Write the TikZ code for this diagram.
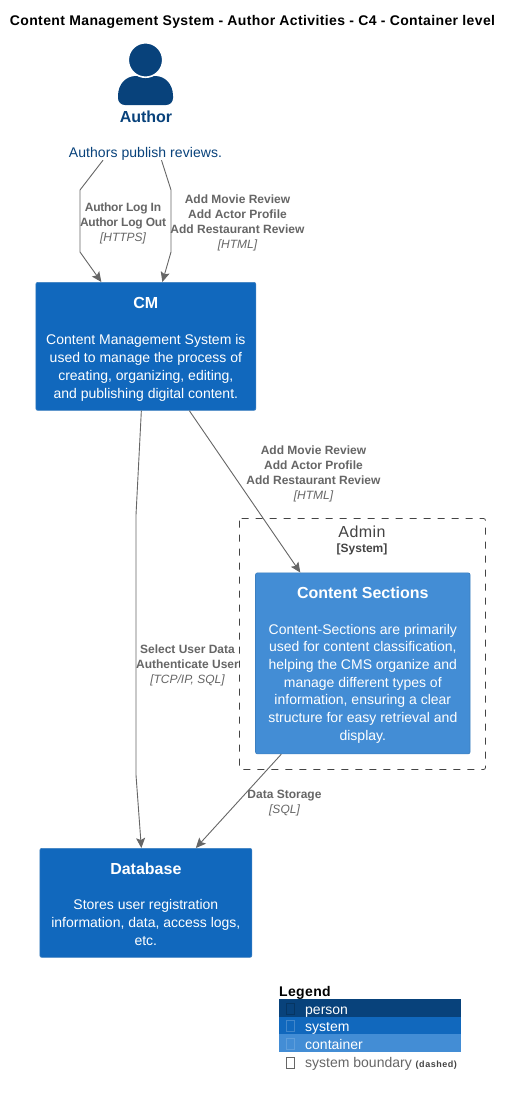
\documentclass[tikz,border=0pt]{standalone}
\usepackage{fontspec}
\setmainfont{Liberation Sans}
\usetikzlibrary{arrows.meta}
\definecolor{personc}{HTML}{08427B}
\definecolor{systemc}{HTML}{1168BD}
\definecolor{containerc}{HTML}{438DD5}
\definecolor{lineg}{HTML}{666666}
\definecolor{bordc}{HTML}{3C7FC0}
\definecolor{bnd}{HTML}{444444}
\newcommand{\fs}[1]{\fontsize{#1pt}{#1pt}\selectfont}
\newcommand{\fsl}[2]{\fontsize{#1pt}{#2pt}\selectfont}
\newcommand{\ttl}[2]{\rule{0pt}{#1pt}{\fs{16}\bfseries #2}}
\newcommand{\tech}[1]{{\normalfont\fs{12}\itshape #1}}
\tikzset{
  x=1pt,y=-1pt,
  box/.style={draw=bordc,line width=0.7pt,rounded corners=2pt,text=white,align=center,inner sep=0pt,anchor=north west,font=\fsl{14}{18}},
  sysbox/.style={box,fill=systemc},
  conbox/.style={box,fill=containerc,font=\fsl{14}{17.7}},
  conn/.style={draw=lineg,line width=0.9pt,-{Stealth[length=10pt,width=9pt,inset=2pt]}},
  elabel/.style={text=lineg,align=center,inner sep=0pt,font=\fsl{12}{15}\bfseries},
  legrow/.style={anchor=north west,minimum width=182pt,minimum height=17.6pt,inner sep=0pt},
  legtext/.style={anchor=base west,inner sep=0pt,font=\fs{14}},
  legmark/.style={anchor=center,minimum width=8pt,minimum height=11pt,inner sep=0pt,line width=0.7pt},
}
\begin{document}
\begin{tikzpicture}
\useasboundingbox (0,0) rectangle (513,1095);
\fill[white] (0,0) rectangle (513,1095);
\node[inner sep=0pt,font=\fs{14}\bfseries\addfontfeature{LetterSpace=2.7}] (title) at (252.5,21.5) {Content Management System - Author Activities - C4 - Container level};
% person
\fill[personc] (118,96) .. controls (118,84) and (126,76) .. (136,76) -- (155,76) .. controls (165,76) and (173,84) .. (173,96) -- (173,98) .. controls (173,102) and (170,105) .. (166,105) -- (125,105) .. controls (121,105) and (118,102) .. (118,98) -- cycle;
\node[circle,fill=personc,draw=white,line width=1.6pt,minimum size=34.5pt,inner sep=0pt] (head) at (145.5,60) {};
\node[inner sep=0pt,text=personc,font=\fs{16}\bfseries] (author) at (146,117) {Author};
\node[inner sep=0pt,text=personc,font=\fs{14}\addfontfeature{LetterSpace=0.5}] (desc) at (145.5,153.5) {Authors publish reviews.};
% boxes
\node[sysbox,minimum width=220pt,minimum height=128pt] (cm) at (35.5,282) {\ttl{18}{CM}\\[18pt]Content Management System is\\used to manage the process of\\creating, organizing, editing,\\and publishing digital content.};
\node[sysbox,minimum width=212pt,minimum height=109pt] (db) at (39.5,848) {\ttl{14}{Database}\\[17pt]Stores user registration\\information, data, access logs,\\etc.};
\draw[bnd,line width=0.8pt,dash pattern=on 7pt off 7pt,rounded corners=2pt] (239.5,518.5) rectangle (485.5,769.5);
\node[inner sep=0pt,text=bnd,font=\fs{16}\addfontfeature{LetterSpace=3}] (adm) at (362,532) {Admin};
\node[inner sep=0pt,text=bnd,font=\fs{12}\bfseries] (admt) at (362,549) {[System]};
\node[conbox,minimum width=214.5pt,minimum height=181pt] (cs) at (255.2,572.5) {\ttl{15.5}{Content Sections}\\[17.5pt]Content-Sections are primarily\\used for content classification,\\helping the CMS organize and\\manage different types of\\information, ensuring a clear\\structure for easy retrieval and\\display.};
% connectors
\draw[conn] ([xshift=-42.5pt]desc.south) -- (80,190) -- (80,252) -- ([xshift=-44.5pt]cm.north);
\draw[conn] ([xshift=16pt]desc.south) -- (171,190) -- (171,252) -- ([xshift=16.5pt]cm.north);
\draw[conn] ([xshift=-4.5pt]cm.south) -- (136,515) -- (136,775) -- ([xshift=-4.5pt]db.north);
\draw[conn] ([xshift=43.5pt]cm.south) -- ([xshift=-62.5pt]cs.north);
\draw[conn] ([xshift=-81.5pt]cs.south) -- ([xshift=50pt]db.north);
% labels
\node[elabel,font=\fsl{12}{15}\bfseries\addfontfeature{LetterSpace=-2}] (l1) at (123,223) {Author Log In\\Author Log Out\\\tech{[HTTPS]}};
\node[elabel] (l2) at (237.5,223) {Add Movie Review\\Add Actor Profile\\Add Restaurant Review\\\tech{[HTML]}};
\node[elabel] (l3) at (313.5,474) {Add Movie Review\\Add Actor Profile\\Add Restaurant Review\\\tech{[HTML]}};
\node[elabel] (l4) at (187.5,665.5) {Select User Data\\Authenticate User\\\tech{[TCP/IP, SQL]}};
\node[elabel] (l5) at (284.5,803) {Data Storage\\\tech{[SQL]}};
% legend
\node[inner sep=0pt,anchor=base west,font=\fs{14}\bfseries\addfontfeature{LetterSpace=2.5}] (legt) at (279,996) {Legend};
\node[legrow,fill=personc] (r1) at (278.5,999) {};
\node[legrow,fill=systemc] (r2) at (278.5,1016.6) {};
\node[legrow,fill=containerc] (r3) at (278.5,1034.2) {};
\node[legmark,draw=personc!80!black] (m1) at (290,1009) {};
\node[legmark,draw=systemc!80!white] (m2) at (290,1026) {};
\node[legmark,draw=containerc!85!white] (m3) at (290,1044) {};
\node[legmark,draw=lineg] (m4) at (290,1063) {};
\node[legtext,text=white] at (305,1014) {person};
\node[legtext,text=white] at (305,1031) {system};
\node[legtext,text=white] at (305,1049) {container};
\node[legtext,text=lineg] at (305,1067) {system boundary {\fs{9}\bfseries\addfontfeature{LetterSpace=6}\color{bnd} (dashed)}};
\end{tikzpicture}
\end{document}
